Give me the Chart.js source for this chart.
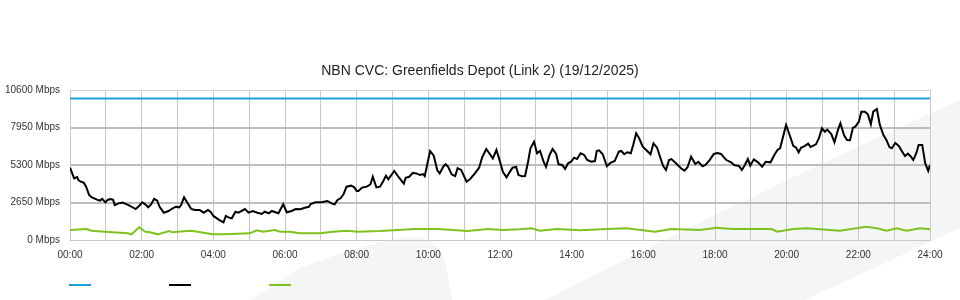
<!DOCTYPE html>
<html>
<head>
<meta charset="utf-8">
<script src="https://cdn.jsdelivr.net/npm/chart.js@4/dist/chart.umd.min.js"></script>
<style>
  html, body { margin: 0; padding: 0; background: #ffffff; }
  #wrap { width: 960px; height: 300px; position: relative; }
  canvas { display: block; }
</style>
</head>
<body>
<div id="wrap"><canvas id="c" width="960" height="300"></canvas></div>
<script>
// ---- Data (minutes since midnight, Mbps) ----
const chartTitle = 'NBN CVC: Greenfields Depot (Link 2) (19/12/2025)';
const xTickLabels = ['00:00','02:00','04:00','06:00','08:00','10:00','12:00','14:00','16:00','18:00','20:00','22:00','24:00'];
const yTickValues = [0, 2650, 5300, 7950, 10600];

const capacityTimes  = [0, 1440];
const capacityValues = [10000, 10000];

const blackTimes = [0,7,12,14,18,23,27,32,36,45,50,54,59,63,67,72,75,81,88,98,103,110,116,121,126,131,136,141,146,150,157,165,170,177,183,186,191,197,203,209,217,224,231,236,240,246,251,257,261,266,271,277,282,293,299,306,314,321,326,333,338,344,349,357,363,371,378,386,393,400,403,411,419,425,431,438,443,448,453,458,463,471,476,480,483,489,497,503,507,513,519,524,529,533,543,551,559,562,568,574,581,586,591,594,603,609,615,619,625,629,633,639,645,649,655,664,670,678,685,690,697,702,708,714,718,725,731,736,741,747,751,757,762,767,771,777,782,787,793,797,803,808,814,818,824,829,834,839,844,849,855,861,866,873,879,882,886,892,899,905,912,919,923,928,933,939,943,948,953,959,964,972,977,983,987,993,998,1003,1007,1016,1023,1029,1034,1040,1047,1052,1059,1064,1071,1078,1084,1090,1099,1107,1112,1120,1125,1130,1135,1139,1145,1152,1159,1165,1173,1180,1185,1189,1199,1205,1211,1216,1220,1224,1230,1236,1240,1249,1254,1259,1264,1268,1275,1280,1286,1290,1296,1301,1306,1311,1315,1321,1325,1331,1336,1341,1345,1351,1356,1362,1367,1372,1376,1382,1388,1392,1398,1403,1408,1412,1417,1421,1427,1432,1437,1440];
const blackValues = [5110,4360,4450,4240,4120,4050,3770,3180,3020,2850,2780,2900,2660,2830,2900,2850,2470,2590,2640,2470,2350,2190,2420,2660,2520,2310,2540,2900,2780,2350,1930,2050,2190,2350,2310,2470,3020,2590,2190,2120,2120,1930,2120,1960,1700,1530,1390,1250,1700,1580,1530,2000,1930,2190,1930,2050,1930,1840,2000,1890,2050,1960,1890,2520,1960,2050,2190,2170,2280,2350,2540,2660,2660,2710,2760,2590,2520,2830,2950,3230,3770,3840,3720,3460,3460,3700,3770,3940,4470,3720,3770,4120,4540,4290,4880,4400,3980,4400,4470,4740,4690,4590,4660,4520,6290,5960,4930,4710,5180,5350,5180,4640,4520,5070,4950,4120,4310,4710,5110,5820,6430,6130,5770,6360,5820,4800,4430,4780,5110,5160,4590,4500,4520,5530,6480,6950,6130,6290,5530,5160,6010,6430,6080,5350,5300,5020,5420,5530,5820,5720,6130,6010,5650,5530,5580,6290,6340,6060,5210,5460,5580,6240,6290,6060,6200,6130,6710,7540,7190,6590,6400,6060,6830,6520,6010,5250,4950,5650,5720,5370,5070,4900,5140,5890,5370,5530,5210,5300,5650,6080,6150,6080,5650,5490,5300,5230,4950,5300,5720,5250,5700,5490,5180,5530,5490,6060,6380,6480,8130,7420,6660,6520,6200,6520,6640,6810,6570,6760,7190,7890,7650,7800,7470,6900,7800,8250,7420,7070,7050,7940,8010,8360,9070,9070,8880,8180,9070,9260,8130,7420,7070,6570,6480,6860,6640,6340,5940,6100,5890,5650,6130,6710,6710,5420,4880,5300];

const greenTimes  = [0,28,36,59,97,103,116,126,134,147,166,171,181,201,214,239,256,301,313,323,343,352,368,385,419,440,463,482,519,578,616,666,700,725,753,773,787,815,854,899,932,966,980,1007,1055,1083,1108,1175,1184,1211,1234,1289,1333,1351,1367,1384,1401,1423,1440];
const greenValues = [707,777,657,587,471,400,897,587,544,400,636,544,587,657,587,400,400,471,685,587,707,587,587,471,471,587,657,587,636,777,777,636,777,707,757,827,657,777,690,777,827,657,587,777,700,870,777,777,587,777,827,657,940,827,657,827,657,827,756];

function pts(ts, vs) { return ts.map((t, i) => ({ x: t, y: vs[i] })); }

// ---- decoration: faint background swooshes ----
const bgPlugin = {
  id: 'bgShapes',
  beforeDraw(chart) {
    const ctx = chart.ctx;
    ctx.save();
    ctx.fillStyle = '#f4f5f7';
    ctx.beginPath();
    ctx.moveTo(250, 300);
    ctx.lineTo(300, 268);
    ctx.quadraticCurveTo(360, 245, 405, 237);
    ctx.quadraticCurveTo(440, 235, 446, 265);
    ctx.lineTo(452, 300);
    ctx.closePath();
    ctx.fill();
    ctx.beginPath();
    ctx.moveTo(545, 300);
    ctx.quadraticCurveTo(760, 190, 960, 100);
    ctx.lineTo(960, 228);
    ctx.lineTo(805, 300);
    ctx.closePath();
    ctx.fill();
    ctx.restore();
  }
};

// ---- legend swatches (no text) ----
const swatchLegend = {
  id: 'swatchLegend',
  afterDraw(chart) {
    const ctx = chart.ctx;
    ctx.save();
    chart.data.datasets.forEach((ds, i) => {
      const x0 = 69 + i * 100;
      ctx.strokeStyle = ds.borderColor;
      ctx.lineWidth = 2;
      ctx.beginPath();
      ctx.moveTo(x0, 285);
      ctx.lineTo(x0 + 22, 285);
      ctx.stroke();
    });
    ctx.restore();
  }
};

const FONT = '"Liberation Sans", Arial, Helvetica, sans-serif';

new Chart(document.getElementById('c'), {
  type: 'line',
  data: {
    datasets: [
      { label: 'Capacity', data: pts(capacityTimes, capacityValues), borderColor: '#1ca0e0', borderWidth: 2, pointRadius: 0, tension: 0 },
      { label: 'Traffic', data: pts(blackTimes, blackValues), borderColor: '#000000', borderWidth: 2, pointRadius: 0, tension: 0 },
      { label: 'Other', data: pts(greenTimes, greenValues), borderColor: '#7dc21e', borderWidth: 2, pointRadius: 0, tension: 0 }
    ]
  },
  options: {
    responsive: false,
    animation: false,
    devicePixelRatio: 1,
    layout: { padding: { left: 0, right: 0, top: 0, bottom: 30 } },
    plugins: {
      legend: { display: false },
      tooltip: { enabled: false },
      title: {
        display: true,
        text: chartTitle,
        color: '#222',
        font: { family: FONT, size: 14, weight: 'normal', lineHeight: 1.2 },
        padding: { top: 63, bottom: 10.2 }
      }
    },
    scales: {
      x: {
        type: 'linear',
        min: 0, max: 1440,
        ticks: {
          stepSize: 60,
          autoSkip: false,
          maxRotation: 0,
          padding: 9,
          color: '#333',
          font: { family: FONT, size: 10 },
          callback: (v) => (v % 120 === 0 ? xTickLabels[v / 120] : '')
        },
        grid: { color: '#c8c8c8', lineWidth: 1, drawTicks: false },
        border: { color: '#c8c8c8' }
      },
      y: {
        min: 0, max: 10600,
        afterBuildTicks: (s) => { s.ticks = yTickValues.map(v => ({ value: v })); },
        afterFit: (s) => { s.width = 70; },
        ticks: {
          padding: 10,
          color: '#333',
          font: { family: FONT, size: 10 },
          callback: (v) => v + ' Mbps'
        },
        grid: {
          drawTicks: false,
          color: (c) => (c.index === 0 || c.index === yTickValues.length - 1) ? '#d4d4d4' : '#bdbdbd',
          lineWidth: (c) => (c.index === 0 || c.index === yTickValues.length - 1) ? 1 : 2
        },
        border: { color: '#c8c8c8' }
      },
      yRightSpace: {
        position: 'right',
        min: 0, max: 10600,
        afterFit: (s) => { s.width = 30; },
        ticks: { display: false },
        grid: { drawOnChartArea: false, drawTicks: false },
        border: { display: false }
      }
    }
  },
  plugins: [bgPlugin, swatchLegend]
});
</script>
</body>
</html>
